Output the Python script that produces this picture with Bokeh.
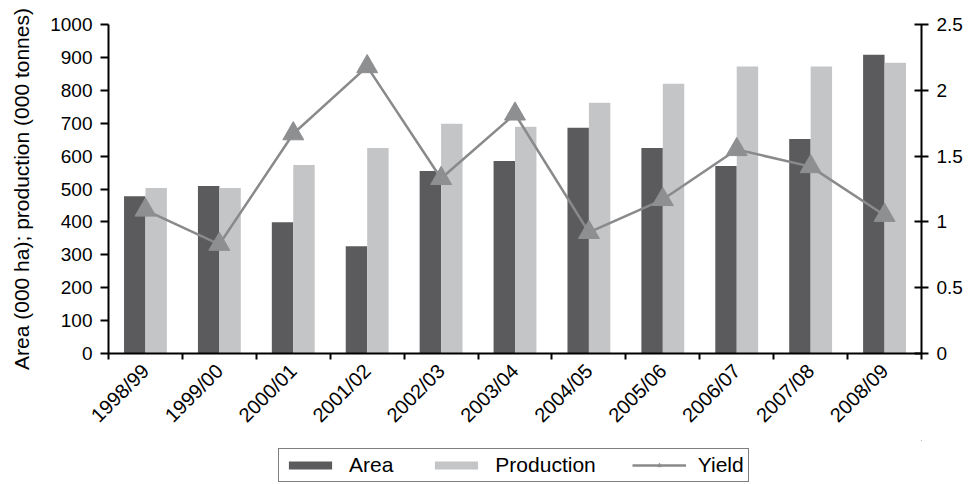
import math
from bokeh.plotting import figure
from bokeh.layouts import column
from bokeh.models import (Range1d, LinearAxis, FixedTicker, Legend, LegendItem,
                          ColumnDataSource)
from bokeh.transform import dodge
from bokeh.embed import file_html
from bokeh.resources import INLINE

seasons = ["1998/99", "1999/00", "2000/01", "2001/02", "2002/03", "2003/04",
           "2004/05", "2005/06", "2006/07", "2007/08", "2008/09"]
area = [478, 509, 399, 326, 555, 585, 686, 625, 570, 652, 908]
production = [503, 503, 573, 625, 698, 689, 762, 820, 872, 872, 884]
yield_t = [1.09, 0.83, 1.67, 2.18, 1.33, 1.82, 0.92, 1.17, 1.55, 1.42, 1.05]
left_ticks = [0, 100, 200, 300, 400, 500, 600, 700, 800, 900, 1000]
right_ticks = [0, 0.5, 1, 1.5, 2, 2.5]
legend_labels = ["Area", "Production", "Yield"]

n = len(seasons)
xs = [i + 0.5 for i in range(n)]
src = ColumnDataSource(dict(x=xs, season=seasons, area=area,
                            production=production, yld=yield_t))

FONT = "Liberation Sans"
DARK = "#5b5b5d"
LIGHT = "#c4c5c7"
LINE = "#898a8c"
TRI = "#8e8f91"

p = figure(width=971, height=440,
           x_range=Range1d(0, n), y_range=Range1d(0, 1000),
           output_backend="svg", toolbar_location=None,
           min_border_left=108, min_border_right=50, min_border_top=24,
           min_border_bottom=87)
p.extra_y_ranges = {"yield": Range1d(0, 2.5)}
p.grid.visible = False
p.outline_line_color = None

p.vbar(x=dodge("x", -0.145, range=p.x_range), top="area", width=0.29,
       source=src, fill_color=DARK, line_color=None)
p.vbar(x=dodge("x", 0.145, range=p.x_range), top="production", width=0.29,
       source=src, fill_color=LIGHT, line_color=None)
p.line(x="x", y="yld", source=src, y_range_name="yield",
       line_color=LINE, line_width=2.5)
p.scatter(x="x", y="yld", source=src, y_range_name="yield",
          marker="triangle", size=21, fill_color=TRI, line_color=TRI)

# x axis
xa = p.xaxis[0]
xa.ticker = FixedTicker(ticks=xs, minor_ticks=list(range(n + 1)))
xa.major_label_overrides = {x: s for x, s in zip(xs, seasons)}
xa.major_label_orientation = math.pi / 4
xa.major_tick_line_color = None
xa.major_tick_out = 6
xa.major_label_standoff = 8
xa.minor_tick_line_color = "black"
xa.minor_tick_line_width = 2
xa.minor_tick_out = 6
xa.minor_tick_in = 0

ya = p.yaxis[0]
ya.ticker = FixedTicker(ticks=left_ticks)
ya.axis_label = "Area (000 ha); production (000 tonnes)"
ya.minor_tick_line_color = None
ya.major_tick_out = 8
ya.major_tick_in = 0
ya.major_label_standoff = 8
ya.axis_label_standoff = 14

ra = LinearAxis(y_range_name="yield", ticker=FixedTicker(ticks=right_ticks))
ra.major_label_overrides = {t: f"{t:g}" for t in right_ticks}
ra.minor_tick_line_color = None
ra.major_tick_out = 7
ra.major_tick_in = 7
ra.major_label_standoff = 8
p.add_layout(ra, "right")

for ax in [xa, ya, ra]:
    ax.axis_line_color = "black"
    ax.axis_line_width = 2
    ax.major_tick_line_width = 2
    ax.major_label_text_font = FONT
    ax.major_label_text_font_size = "19px"
    ax.major_label_text_color = "black"
    ax.axis_label_text_font = FONT
    ax.axis_label_text_font_style = "normal"
    ax.axis_label_text_font_size = "21px"
    ax.axis_label_text_color = "black"
xa.major_label_text_font_size = "20px"
ya.major_tick_line_color = "black"
ra.major_tick_line_color = "black"

# legend strip: same series and styles, view range set away from the data
lg = figure(width=971, height=44, x_range=Range1d(-100, -99),
            y_range=Range1d(-100, -99),
            output_backend="svg", toolbar_location=None,
            x_axis_type=None, y_axis_type=None,
            min_border_left=0, min_border_right=0, min_border_top=0,
            min_border_bottom=0)
lg.grid.visible = False
lg.outline_line_color = None
e_area = lg.vbar(x="x", top="area", width=0.29, source=src,
                 fill_color=DARK, line_color=None)
e_prod = lg.vbar(x="x", top="production", width=0.29, source=src,
                 fill_color=LIGHT, line_color=None)
e_line = lg.line(x="x", y="yld", source=src, line_color=LINE, line_width=2.5)
e_pts = lg.scatter(x="x", y="yld", source=src, marker="triangle", size=21,
                   fill_color=TRI, line_color=TRI)

legend = Legend(items=[
    LegendItem(label=legend_labels[0], renderers=[e_area]),
    LegendItem(label=legend_labels[1], renderers=[e_prod]),
    LegendItem(label=legend_labels[2], renderers=[e_line, e_pts]),
], orientation="horizontal", location=(170, 2))
legend.border_line_color = "black"
legend.border_line_width = 1.5
legend.background_fill_color = "white"
legend.label_text_font = FONT
legend.label_text_font_size = "21px"
legend.label_text_color = "black"
legend.label_height = 21
legend.glyph_width = 54
legend.glyph_height = 10
legend.label_standoff = 12
legend.spacing = 36
legend.padding = 4
legend.margin = 0
lg.add_layout(legend, "center")

layout = column(p, lg, spacing=0)
open("out.html", "w").write(file_html(layout, INLINE))
